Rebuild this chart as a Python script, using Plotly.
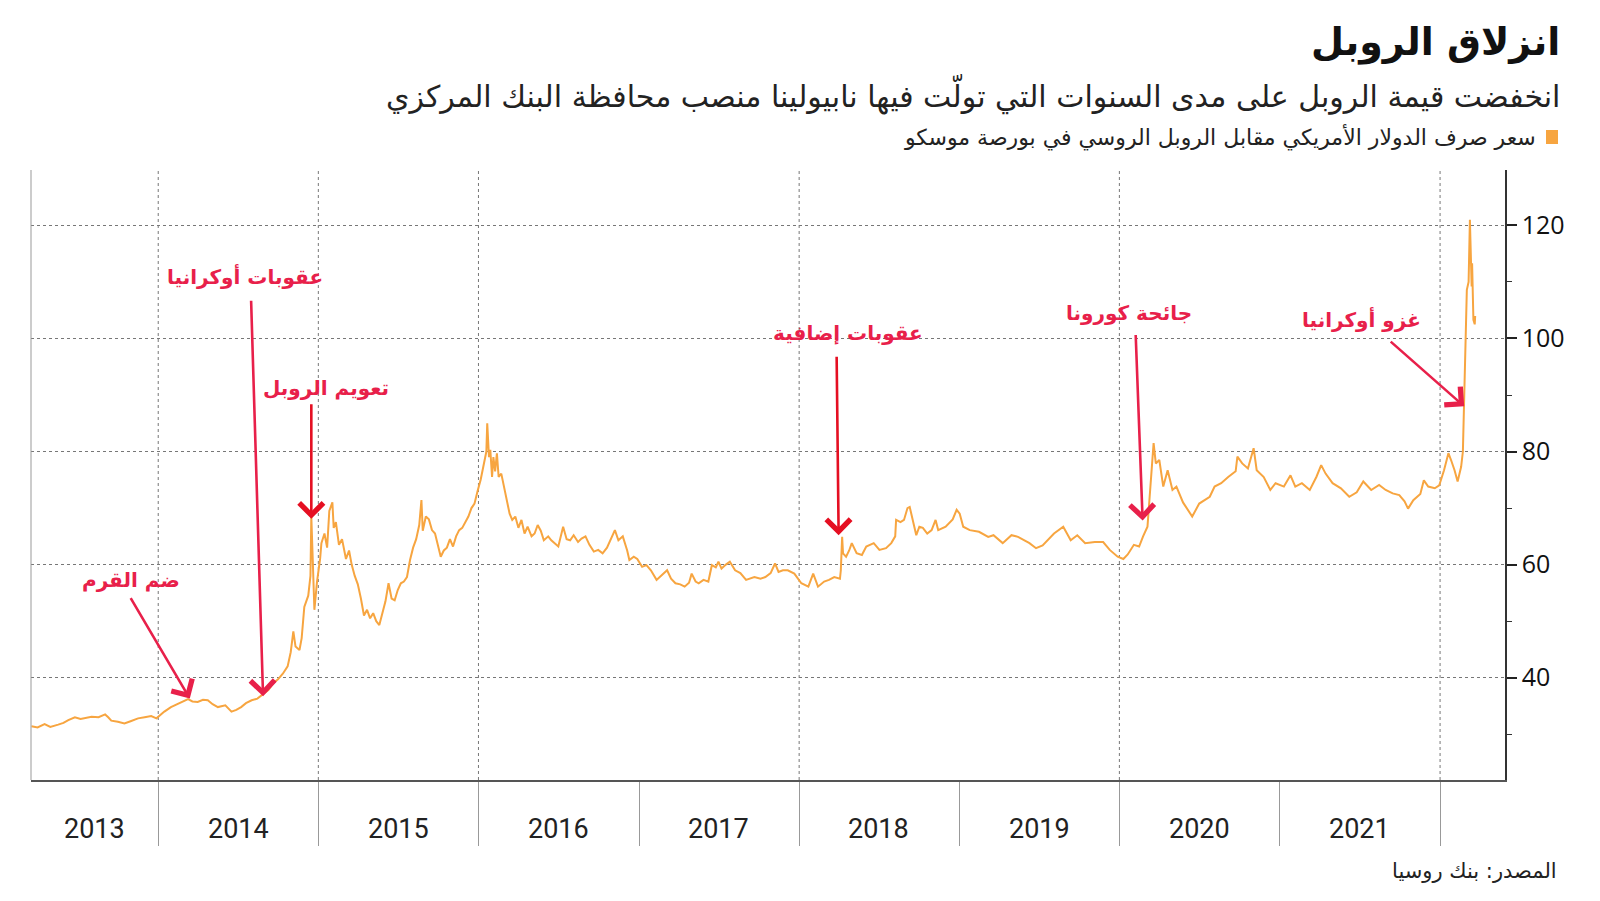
import plotly.graph_objects as go

# ---------------- data ----------------
dates = [
    "2013-03-18", "2013-04-01", "2013-04-17", "2013-04-30", "2013-05-18", "2013-05-30",
    "2013-06-10", "2013-06-25", "2013-07-08", "2013-07-20", "2013-08-02", "2013-08-18",
    "2013-09-02", "2013-09-09", "2013-09-16", "2013-10-01", "2013-10-16", "2013-10-30",
    "2013-11-16", "2013-12-01", "2013-12-16", "2013-12-28", "2014-01-15", "2014-01-30",
    "2014-02-08", "2014-02-24", "2014-03-10", "2014-03-20", "2014-04-01", "2014-04-13",
    "2014-04-24", "2014-05-05", "2014-05-17", "2014-06-03", "2014-06-17", "2014-06-28",
    "2014-07-09", "2014-07-20", "2014-08-02", "2014-08-15", "2014-08-28", "2014-09-09",
    "2014-09-20", "2014-10-01", "2014-10-12", "2014-10-23", "2014-10-30", "2014-11-05",
    "2014-11-10", "2014-11-19", "2014-11-24", "2014-11-30", "2014-12-09", "2014-12-14",
    "2014-12-16", "2014-12-19", "2014-12-23", "2014-12-29", "2015-01-05", "2015-01-08",
    "2015-01-15", "2015-01-21", "2015-01-26", "2015-02-02", "2015-02-05", "2015-02-10",
    "2015-02-17", "2015-02-24", "2015-03-05", "2015-03-12", "2015-03-18", "2015-03-25",
    "2015-04-01", "2015-04-08", "2015-04-15", "2015-04-22", "2015-04-29", "2015-05-06",
    "2015-05-13", "2015-05-20", "2015-05-27", "2015-06-03", "2015-06-10", "2015-06-17",
    "2015-06-24", "2015-07-01", "2015-07-08", "2015-07-15", "2015-07-22", "2015-07-29",
    "2015-08-05", "2015-08-12", "2015-08-19", "2015-08-24", "2015-08-27", "2015-09-03",
    "2015-09-10", "2015-09-17", "2015-09-24", "2015-10-01", "2015-10-07", "2015-10-14",
    "2015-10-21", "2015-10-28", "2015-11-04", "2015-11-11", "2015-11-18", "2015-11-25",
    "2015-12-02", "2015-12-09", "2015-12-16", "2015-12-23", "2015-12-30", "2016-01-06",
    "2016-01-12", "2016-01-15", "2016-01-19", "2016-01-21", "2016-01-25", "2016-01-28",
    "2016-02-01", "2016-02-04", "2016-02-08", "2016-02-12", "2016-02-16", "2016-02-22",
    "2016-02-29", "2016-03-05", "2016-03-12", "2016-03-18", "2016-03-25", "2016-04-01",
    "2016-04-08", "2016-04-15", "2016-04-22", "2016-05-01", "2016-05-08", "2016-05-15",
    "2016-05-22", "2016-05-29", "2016-06-08", "2016-06-15", "2016-06-22", "2016-07-01",
    "2016-07-12", "2016-07-20", "2016-07-28", "2016-08-05", "2016-08-15", "2016-08-23",
    "2016-09-01", "2016-09-10", "2016-09-20", "2016-09-30", "2016-10-10", "2016-10-20",
    "2016-11-07", "2016-11-15", "2016-11-25", "2016-12-05", "2016-12-10", "2016-12-20",
    "2016-12-28", "2017-01-08", "2017-01-18", "2017-01-28", "2017-02-10", "2017-02-20",
    "2017-03-06", "2017-03-15", "2017-03-25", "2017-04-05", "2017-04-15", "2017-04-25",
    "2017-05-01", "2017-05-10", "2017-05-17", "2017-05-28", "2017-06-08", "2017-06-16",
    "2017-06-25", "2017-07-01", "2017-07-08", "2017-07-18", "2017-07-27", "2017-08-08",
    "2017-08-20", "2017-09-02", "2017-09-12", "2017-09-21", "2017-10-05", "2017-10-16",
    "2017-10-28", "2017-11-07", "2017-11-15", "2017-11-25", "2017-12-06", "2017-12-21",
    "2018-01-06", "2018-01-22", "2018-02-02", "2018-02-13", "2018-02-27", "2018-03-10",
    "2018-03-22", "2018-04-04", "2018-04-06", "2018-04-09", "2018-04-11", "2018-04-18",
    "2018-04-25", "2018-05-01", "2018-05-12", "2018-05-24", "2018-06-03", "2018-06-20",
    "2018-07-03", "2018-07-18", "2018-07-30", "2018-08-08", "2018-08-10", "2018-08-20",
    "2018-08-28", "2018-09-05", "2018-09-10", "2018-09-17", "2018-09-25", "2018-10-02",
    "2018-10-10", "2018-10-20", "2018-10-30", "2018-11-08", "2018-11-14", "2018-12-01",
    "2018-12-17", "2018-12-26", "2019-01-02", "2019-01-10", "2019-01-25", "2019-02-15",
    "2019-03-08", "2019-03-20", "2019-04-10", "2019-04-30", "2019-05-15", "2019-06-10",
    "2019-06-25", "2019-07-10", "2019-08-05", "2019-08-26", "2019-09-12", "2019-09-27",
    "2019-10-15", "2019-11-06", "2019-11-25", "2019-12-10", "2019-12-28", "2020-01-10",
    "2020-01-20", "2020-02-03", "2020-02-15", "2020-02-24", "2020-03-05", "2020-03-10",
    "2020-03-18", "2020-03-19", "2020-03-24", "2020-04-01", "2020-04-10", "2020-04-20",
    "2020-05-01", "2020-05-10", "2020-05-25", "2020-06-05", "2020-06-15", "2020-07-01",
    "2020-07-15", "2020-07-25", "2020-08-05", "2020-08-20", "2020-09-05", "2020-09-22",
    "2020-09-26", "2020-10-07", "2020-10-20", "2020-10-28", "2020-11-02", "2020-11-09",
    "2020-11-25", "2020-12-10", "2020-12-22", "2021-01-10", "2021-01-25", "2021-02-05",
    "2021-02-20", "2021-03-10", "2021-03-25", "2021-04-05", "2021-04-15", "2021-05-01",
    "2021-05-20", "2021-06-08", "2021-06-25", "2021-07-10", "2021-07-28", "2021-08-15",
    "2021-08-30", "2021-09-15", "2021-09-30", "2021-10-12", "2021-10-20", "2021-11-01",
    "2021-11-17", "2021-11-25", "2021-12-05", "2021-12-20", "2021-12-30", "2022-01-10",
    "2022-01-20", "2022-01-26", "2022-02-03", "2022-02-10", "2022-02-18", "2022-02-22",
    "2022-02-24", "2022-02-25", "2022-02-28", "2022-03-01", "2022-03-03", "2022-03-07",
    "2022-03-09", "2022-03-10", "2022-03-11", "2022-03-14", "2022-03-15", "2022-03-16",
    "2022-03-17", "2022-03-18", "2022-03-21", "2022-03-22",
]
usd_rub = [
    31.4, 31.2, 31.8, 31.3, 31.7, 32.0,
    32.5, 33.0, 32.7, 32.9, 33.1, 33.0,
    33.5, 33.0, 32.4, 32.2, 31.9, 32.3,
    32.8, 33.0, 33.2, 32.8, 34.0, 34.8,
    35.1, 35.6, 36.2, 35.8, 35.7, 36.1,
    36.0, 35.3, 34.8, 35.1, 34.0, 34.3,
    34.8, 35.5, 36.0, 36.3, 37.0, 37.8,
    39.0, 39.7, 40.7, 42.0, 44.5, 48.2,
    45.5, 44.9, 47.0, 52.5, 54.5, 58.0,
    68.5, 60.0, 52.0, 57.0, 61.0, 63.8,
    65.5, 63.0, 69.5, 71.0, 66.5, 67.5,
    63.5, 64.5, 61.0, 62.5, 60.0, 58.0,
    56.5, 54.0, 51.0, 52.0, 50.5, 51.4,
    50.0, 49.3, 51.5, 53.5, 56.7, 54.0,
    53.7, 55.5, 56.7, 57.0, 57.8, 60.8,
    63.0, 64.5, 67.0, 71.4, 66.0, 68.5,
    68.0, 66.1, 65.5, 63.5, 61.4, 62.5,
    63.0, 64.5, 63.2, 65.0, 66.1, 66.5,
    67.5, 68.5, 70.0, 70.8, 73.0, 75.0,
    77.3, 78.5, 80.0, 85.0, 79.0, 80.3,
    75.5, 79.0, 76.5, 79.7, 75.5, 76.1,
    73.5, 71.4, 69.0, 67.9, 68.5, 66.5,
    67.9, 65.5, 66.7, 65.0, 65.5, 67.0,
    66.0, 64.3, 65.0, 64.3, 63.8, 63.2,
    66.7, 64.5, 64.3, 65.2, 64.0, 64.6,
    65.0, 63.5, 62.3, 62.6, 62.0, 63.0,
    66.1, 64.3, 65.0, 62.5, 60.8, 61.4,
    61.0, 59.6, 59.9, 59.0, 57.3, 58.0,
    59.0, 57.5, 56.7, 56.5, 56.1, 56.8,
    58.4, 57.0, 56.7, 57.3, 57.0, 59.9,
    59.5, 60.5, 59.3, 60.0, 60.5, 59.0,
    58.5, 57.3, 57.5, 57.8, 57.5, 57.8,
    58.5, 60.2, 58.7, 59.0, 59.0, 58.4,
    56.7, 56.1, 58.4, 56.1, 57.0, 57.3,
    57.8, 57.5, 59.0, 64.9, 62.0, 61.4,
    62.5, 63.8, 62.0, 61.7, 63.2, 63.8,
    62.6, 62.9, 63.8, 65.0, 67.9, 67.5,
    67.9, 70.0, 70.2, 67.9, 65.2, 66.7,
    66.5, 65.5, 66.1, 67.9, 66.1, 66.7,
    68.0, 69.7, 69.0, 66.7, 66.1, 65.8,
    64.9, 65.2, 63.8, 65.2, 64.9, 63.8,
    62.9, 63.4, 65.5, 66.7, 64.3, 65.2,
    63.8, 64.0, 64.0, 62.6, 61.4, 61.0,
    61.8, 63.5, 63.2, 65.0, 66.7, 72.0,
    80.5, 81.5, 77.9, 78.5, 73.8, 76.7,
    73.2, 73.8, 71.0, 69.6, 68.5, 70.8,
    71.5, 72.0, 73.8, 74.4, 75.5, 76.5,
    79.1, 77.9, 77.0, 79.5, 80.6, 76.7,
    75.5, 73.2, 74.4, 73.8, 75.8, 73.8,
    74.4, 73.2, 75.5, 77.6, 76.1, 74.4,
    73.5, 72.0, 72.8, 74.7, 73.2, 74.1,
    73.2, 72.6, 72.3, 71.2, 69.9, 71.4,
    72.5, 74.9, 73.8, 73.5, 74.0, 76.7,
    79.7, 78.5, 76.7, 74.7, 77.3, 80.0,
    86.0, 87.9, 95.0, 99.7, 108.6, 110.0,
    116.0, 121.0, 118.0, 109.2, 113.3, 108.0,
    105.6, 103.3, 102.5, 104.0,
]

year_labels = ["2013", "2014", "2015", "2016", "2017", "2018", "2019", "2020", "2021"]
year_label_dates = ["2013-08-09", "2014-07-02", "2015-07-02", "2016-07-02", "2017-07-02",
                    "2018-07-02", "2019-07-02", "2020-07-02", "2021-07-02"]
year_ticks = ["2014-01-01", "2015-01-01", "2016-01-01", "2017-01-01", "2018-01-01",
              "2019-01-01", "2020-01-01", "2021-01-01", "2022-01-01"]
grid_years = ["2014-01-01", "2015-01-01", "2016-01-01", "2018-01-01", "2020-01-01", "2022-01-01"]
y_ticks = [40, 60, 80, 100, 120]

events = ["ضم القرم", "عقوبات أوكرانيا", "تعويم الروبل", "عقوبات إضافية", "جائحة كورونا", "غزو أوكرانيا"]
event_tip_dates = ["2014-03-14", "2014-08-28", "2014-12-16", "2018-04-01", "2020-02-23", "2022-02-25"]
event_tip_values = [36.3, 36.7, 68.1, 65.2, 67.8, 88.0]
event_text_dates = ["2013-11-01", "2014-07-17", "2015-01-19", "2018-04-22", "2020-01-24", "2021-07-06"]
event_text_values = [57.3, 111.0, 91.3, 100.9, 104.5, 103.4]

title = "انزلاق الروبل"
subtitle = "انخفضت قيمة الروبل على مدى السنوات التي تولّت فيها نابيولينا منصب محافظة البنك المركزي"
legend_text = "سعر صرف الدولار الأمريكي مقابل الروبل الروسي في بورصة موسكو"
source = "المصدر: بنك روسيا"

# ---------------- style ----------------
LINE = "#f7a540"
RED = "#e8204a"
RED2 = "#e50f22"
AR_FONT = "DejaVu Sans"

OFF = 8                      # page body margin of the html page
W, H = 1600 - 2 * OFF, 901 - 2 * OFF
PL, PR, PT, PB = 31, 1505, 170, 780   # plot box in page pixels
L, R, T, B = PL - OFF, W - (PR - OFF), PT - OFF, H - (PB - OFF)
PW, PH = W - L - R, H - T - B


def px(xp):
    return (xp - OFF - L) / PW


def py(yp):
    return (H - B - (yp - OFF)) / PH


fig = go.Figure()
fig.add_trace(go.Scatter(x=dates, y=usd_rub, mode="lines",
                         line=dict(color=LINE, width=2), hoverinfo="skip",
                         showlegend=False))

shapes = []
for d in grid_years:
    shapes.append(dict(type="line", xref="x", yref="paper", x0=d, x1=d, y0=0, y1=1,
                       line=dict(color="#777", width=1, dash="dot"), layer="below"))
shapes.append(dict(type="line", xref="paper", yref="paper", x0=0, x1=0, y0=0, y1=1,
                   line=dict(color="#999", width=1)))
shapes.append(dict(type="rect", xref="paper", yref="paper",
                   x0=px(1546), x1=px(1558), y0=py(144), y1=py(130),
                   fillcolor=LINE, line=dict(width=0)))

ann = []
ann.append(dict(text="<b>" + title + "</b>", xref="paper", yref="paper", x=px(1562), y=py(43),
                xanchor="right", yanchor="middle", showarrow=False,
                font=dict(family=AR_FONT, size=38, color="#111")))
ann.append(dict(text=subtitle, xref="paper", yref="paper", x=px(1562), y=py(94),
                xanchor="right", yanchor="middle", showarrow=False,
                font=dict(family=AR_FONT, size=30, color="#222")))
ann.append(dict(text=legend_text, xref="paper", yref="paper", x=px(1538), y=py(137),
                xanchor="right", yanchor="middle", showarrow=False,
                font=dict(family=AR_FONT, size=22, color="#222")))
ann.append(dict(text=source, xref="paper", yref="paper", x=px(1559), y=py(871),
                xanchor="right", yanchor="middle", showarrow=False,
                font=dict(family=AR_FONT, size=21, color="#222")))
for lab, d in zip(year_labels, year_label_dates):
    ann.append(dict(text=lab, xref="x", yref="paper", x=d, y=py(829),
                    xanchor="center", yanchor="middle", showarrow=False,
                    font=dict(family="Roboto", size=27, color="#222")))

tails = [(-60, -102), (-12, -397), (0, -116), (-2, -180), (-7, -187), (-75, -66)]
arrow_cols = [RED, RED, RED2, RED2, RED, RED]
for (axp, ayp), d, v, c in zip(tails, event_tip_dates, event_tip_values, arrow_cols):
    ann.append(dict(text="", x=d, y=v, xref="x", yref="y", ax=axp, ay=ayp,
                    showarrow=True, arrowhead=4, arrowsize=1.8, arrowwidth=2.6,
                    arrowcolor=c, standoff=0, startstandoff=0))
for t, d, v in zip(events, event_text_dates, event_text_values):
    ann.append(dict(text="<b>" + t + "</b>", x=d, y=v, xref="x", yref="y",
                    xanchor="center", yanchor="middle", showarrow=False,
                    font=dict(family=AR_FONT, size=20, color=RED)))

fig.update_layout(
    width=W, height=H, autosize=False,
    margin=dict(l=L, r=R, t=T, b=B, pad=0),
    paper_bgcolor="white", plot_bgcolor="white",
    shapes=shapes, annotations=ann, showlegend=False,
    xaxis=dict(type="date", range=["2013-03-17", "2022-05-29"], showgrid=False,
               tickmode="array", tickvals=year_ticks, showticklabels=False,
               ticks="outside", ticklen=64, tickwidth=1, tickcolor="#999",
               showline=True, linecolor="#555", linewidth=2, zeroline=False,
               fixedrange=True),
    yaxis=dict(side="right", range=[21.9, 129.8], tickmode="array", tickvals=y_ticks,
               ticks="outside", ticklen=10, tickwidth=2, tickcolor="#222",
               tickfont=dict(family="Open Sans", size=25, color="#111"),
               showgrid=True, gridcolor="#777", griddash="dot", gridwidth=1,
               showline=True, linecolor="#333", linewidth=1.5, zeroline=False,
               minor=dict(tickmode="array", tickvals=[30, 50, 70, 90, 110, 130], ticks="outside",
                          ticklen=5, tickcolor="#333", tickwidth=1, showgrid=False),
               fixedrange=True),
)

fig.write_html("out.html")
